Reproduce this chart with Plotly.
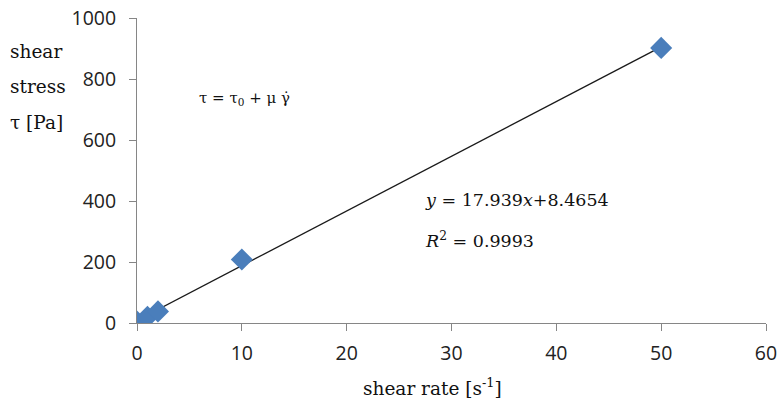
import plotly.graph_objects as go

shear_rate = [0, 1, 2, 10, 50]
shear_stress = [5, 20, 38, 208, 902]
slope = 17.939
intercept = 8.4654
r_squared = 0.9993
fit_x = [0, 50]
fit_y = [slope * x + intercept for x in fit_x]
y_title_lines = ["shear", "stress", "τ [Pa]"]

fig = go.Figure()
fig.add_trace(go.Scatter(x=fit_x, y=fit_y, mode="lines",
                         line=dict(color="#1a1a1a", width=1.3), showlegend=False))
fig.add_trace(go.Scatter(x=shear_rate, y=shear_stress, mode="markers",
                         marker=dict(symbol="diamond", size=17, color="#4a7ebb"),
                         showlegend=False))

serif = "DejaVu Serif"
sans = "Open Sans"
axis_common = dict(showgrid=False, zeroline=False, showline=True,
                   linecolor="#868686", linewidth=1, ticks="outside",
                   ticklen=7, tickcolor="#868686", automargin=False,
                   tickfont=dict(family=sans, size=19.5, color="#222"))

annotations = []
for i, line in enumerate(y_title_lines):
    annotations.append(dict(text=line, xref="paper", yref="paper",
                            x=-0.205, y=(399 - 76 - (52 + 35 * i)) / 305,
                            xanchor="left", yanchor="middle", showarrow=False,
                            font=dict(family=serif, size=18.5, color="#111")))
annotations += [
    dict(text="shear rate [s<sup>-1</sup>]", xref="paper", yref="paper",
         x=0.469, y=-0.165, xanchor="center", yanchor="top",
         showarrow=False, font=dict(family=serif, size=18.5, color="#111")),
    dict(text="τ = τ<sub>0</sub> + μ γ̇", x=5.7, y=735,
         xanchor="left", yanchor="middle", showarrow=False,
         font=dict(family=serif, size=15, color="#111")),
    dict(text=f"<i>y</i> = {slope}<i>x</i>+{intercept}", x=27.3, y=402,
         xanchor="left", yanchor="middle", showarrow=False,
         font=dict(family=serif, size=17.5, color="#111")),
    dict(text=f"<i>R</i><sup>2</sup> = {r_squared}", x=27.3, y=272,
         xanchor="left", yanchor="middle", showarrow=False,
         font=dict(family=serif, size=17.5, color="#111")),
]

fig.update_layout(
    width=778, height=399,
    margin=dict(l=137, r=12, t=18, b=76, autoexpand=False),
    plot_bgcolor="white", paper_bgcolor="white",
    xaxis=dict(range=[0, 60], dtick=10, ticklabelstandoff=6, **axis_common),
    yaxis=dict(range=[0, 1000], dtick=200, ticklabelstandoff=9, **axis_common),
    annotations=annotations,
)
fig.write_html("out.html")
